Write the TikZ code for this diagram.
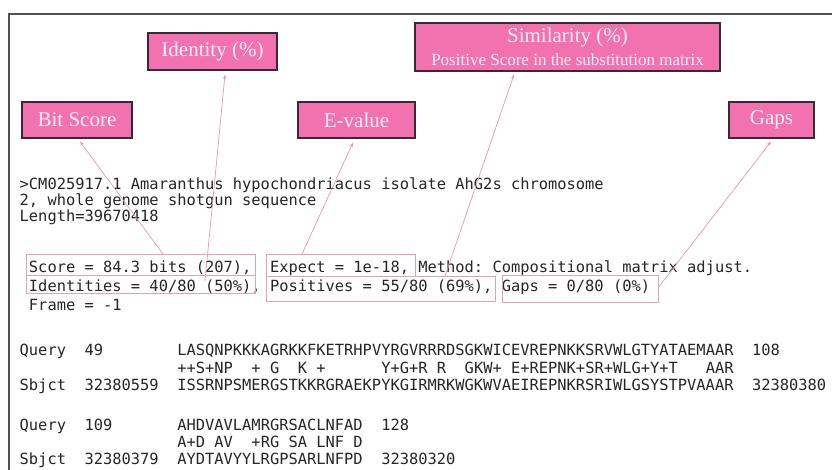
\documentclass[tikz,border=0pt]{standalone}
\usepackage{fontspec}
\setmainfont{Liberation Serif}
\newfontfamily\monof{DejaVu Sans Mono}
\usetikzlibrary{arrows.meta}
\definecolor{calfill}{RGB}{242,114,176}
\definecolor{caledge}{RGB}{60,40,50}
\definecolor{caltext}{RGB}{253,238,245}
\definecolor{boxline}{RGB}{226,160,190}
\definecolor{connline}{RGB}{232,150,188}
\definecolor{txt}{RGB}{38,38,38}
\definecolor{framec}{RGB}{80,80,80}
\begin{document}
\begin{tikzpicture}[x=1pt,y=-1pt,
  callout/.style={draw=caledge,line width=1.1pt,fill=calfill,inner sep=0pt},
  caltxt/.style={text=caltext,inner sep=0pt,font=\fontsize{21}{23}\selectfont},
  calsub/.style={text=caltext,inner sep=0pt,font=\fontsize{17}{19}\selectfont},
  txtline/.style={anchor=west,inner sep=0pt,text=txt,font=\monof\fontsize{15.4}{17}\selectfont,text height=11.2pt,text depth=0pt},
  hbox/.style={draw=boxline,line width=0.8pt,inner sep=0pt,anchor=north west},
  conn/.style={draw=connline,line width=0.7pt,-{Stealth[length=4.5pt,width=3.5pt]}}]
\useasboundingbox (0,0) rectangle (832,470);
\fill[white] (0,0) rectangle (832,470);
% outer frame
\draw[framec,line width=1.4pt] (9,470) -- (9,14) -- (832,14);

% callouts
\node[callout,minimum width=129pt,minimum height=37pt] (identity) at (212.5,51.5) {};
\node[caltxt] (identityt) at (identity) {Identity (\%)};
\node[callout,minimum width=110pt,minimum height=36pt] (bitscore) at (77,120) {};
\node[caltxt] (bitscoret) at (bitscore) {Bit Score};
\node[callout,minimum width=117pt,minimum height=36pt] (evalue) at (356.5,120) {};
\node[caltxt] (evaluet) at (evalue) {E-value};
\node[callout,minimum width=305pt,minimum height=48pt] (similarity) at (567.5,47) {};
\node[caltxt] (similarityt) at (567.5,37.5) {Similarity (\%)};
\node[calsub] (similaritys) at (567.5,60) {Positive Score in the substitution matrix};
\node[callout,minimum width=85pt,minimum height=36pt] (gaps) at (771.5,120) {};
\node[caltxt] (gapst) at (gaps) {Gaps};

% text lines
\node[txtline] (l1) at (19.5,184) {>CM025917.1~Amaranthus~hypochondriacus~isolate~AhG2s~chromosome};
\node[txtline] (l2) at (19.5,200) {2,~whole~genome~shotgun~sequence};
\node[txtline] (l3) at (19.5,216) {Length=39670418};
\node[txtline] (l4) at (19.5,267) {~Score~=~84.3~bits~(207),~~Expect~=~1e-18,~Method:~Compositional~matrix~adjust.};
\node[txtline] (l5) at (19.5,285.5) {~Identities~=~40/80~(50\%),~Positives~=~55/80~(69\%),~Gaps~=~0/80~(0\%)};
\node[txtline] (l6) at (19.5,304.5) {~Frame~=~-1};
\node[txtline] (l7) at (19.5,350) {Query~~49~~~~~~~~LASQNPKKKAGRKKFKETRHPVYRGVRRRDSGKWICEVREPNKKSRVWLGTYATAEMAAR~~108};
\node[txtline] (l8) at (19.5,367.5) {~~~~~~~~~~~~~~~~~++S+NP~~+~G~~K~+~~~~~~Y+G+R~R~~GKW+~E+REPNK+SR+WLG+Y+T~~~AAR};
\node[txtline] (l9) at (19.5,385) {Sbjct~~32380559~~ISSRNPSMERGSTKKRGRAEKPYKGIRMRKWGKWVAEIREPNKRSRIWLGSYSTPVAAAR~~32380380};
\node[txtline] (l10) at (19.5,425) {Query~~109~~~~~~~AHDVAVLAMRGRSACLNFAD~~128};
\node[txtline] (l11) at (19.5,442) {~~~~~~~~~~~~~~~~~A+D~AV~~+RG~SA~LNF~D};
\node[txtline] (l12) at (19.5,459) {Sbjct~~32380379~~AYDTAVYYLRGPSARLNFPD~~32380320};

% highlight boxes
\node[hbox,minimum width=229pt,minimum height=21pt] (scorebox) at (26,254) {};
\node[hbox,minimum width=229pt,minimum height=18pt] (idbox) at (26,275) {};
\node[hbox,minimum width=149pt,minimum height=22pt] (expbox) at (266,254) {};
\node[hbox,minimum width=229pt,minimum height=25pt] (posbox) at (266,276) {};
\node[hbox,minimum width=156pt,minimum height=27pt] (gapbox) at (502,275) {};

% connectors
\coordinate (s1) at ([xshift=137pt]scorebox.north west);
\coordinate (s2) at ([xshift=179pt,yshift=-6pt]idbox.north west);
\coordinate (s3) at ([xshift=36pt]expbox.north west);
\coordinate (s4) at ([xshift=179pt]posbox.north west);
\coordinate (s5) at ([yshift=2pt]gapbox.east);
\coordinate (t1) at ([xshift=3pt,yshift=-3pt]bitscore.south);
\coordinate (t2) at ([xshift=12.5pt,yshift=-4pt]identity.south);
\coordinate (t3) at ([xshift=-3.5pt,yshift=-4pt]evalue.south);
\coordinate (t4) at ([xshift=-53.5pt,yshift=-3pt]similarity.south);
\coordinate (t5) at ([xshift=-0.5pt,yshift=-3pt]gaps.south);
\draw[conn] (s1) -- (t1);
\draw[conn] (s2) -- (t2);
\draw[conn] (s3) -- (t3);
\draw[conn] (s4) -- (t4);
\draw[conn] (s5) -- (t5);
\end{tikzpicture}
\end{document}
